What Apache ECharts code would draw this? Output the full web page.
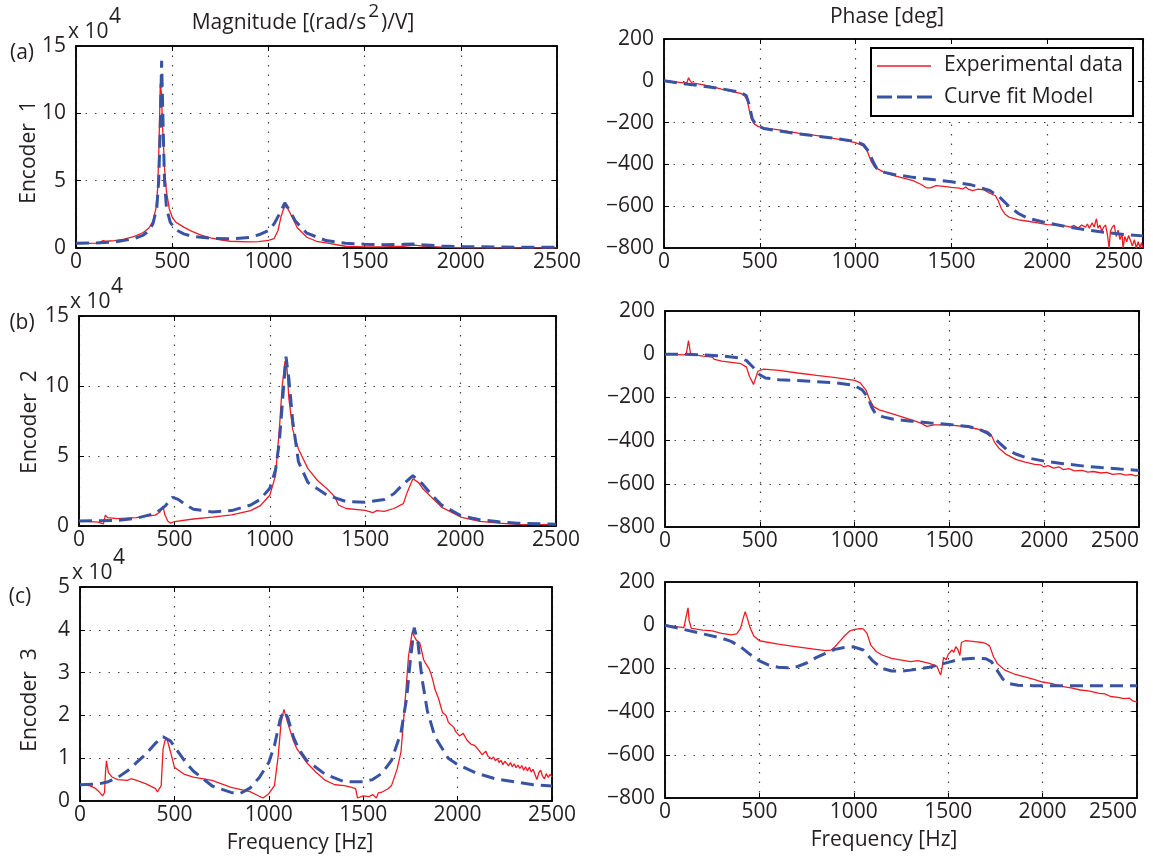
<!DOCTYPE html>
<html><head><meta charset="utf-8">
<script src="https://cdn.jsdelivr.net/npm/echarts@6/dist/echarts.min.js"></script>
<style>html,body{margin:0;padding:0;background:#fff}#c{width:1153px;height:860px}</style>
</head><body><div id="c"></div>
<script>
// ---------------- DATA (frequency [Hz], value) ----------------
// Magnitude values in units of 10^4 (rad/s^2)/V, phase in degrees
const magA_exp = [[0,0.33],[60,0.35],[120,0.36],[130,0.34],[140,0.55],[160,0.5],[200,0.55],[250,0.65],[300,0.85],[350,1.15],[380,1.5],[400,2.0],[415,2.9],[425,4.5],[432,8],[438,12.2],[444,11.5],[450,9],[460,6],[470,4.2],[485,2.9],[500,2.3],[520,1.9],[560,1.55],[600,1.25],[650,0.95],[700,0.75],[750,0.6],[800,0.5],[900,0.45],[950,0.48],[1000,0.57],[1030,0.7],[1050,1.3],[1065,2.3],[1080,2.95],[1090,3.1],[1100,2.95],[1120,2.4],[1150,1.5],[1200,0.8],[1250,0.5],[1300,0.38],[1400,0.13],[1500,0.08],[1600,0.09],[1700,0.13],[1760,0.22],[1800,0.14],[1900,0.06],[2000,0.03],[2200,0.02],[2500,0.01]];
const magA_fit = [[0,0.35],[100,0.37],[200,0.45],[300,0.68],[350,0.95],[380,1.3],[400,1.8],[420,3.0],[430,5.0],[438,9.0],[445,13.9],[452,9.5],[460,5.0],[470,3.0],[490,1.9],[520,1.35],[560,1.05],[600,0.88],[700,0.72],[800,0.68],[900,0.78],[950,0.98],[1000,1.3],[1030,1.8],[1060,2.6],[1085,3.35],[1110,2.8],[1140,2.0],[1200,1.1],[1300,0.55],[1400,0.35],[1500,0.28],[1600,0.25],[1700,0.27],[1760,0.3],[1800,0.25],[1900,0.15],[2000,0.1],[2200,0.07],[2500,0.05]];
const phaseA_exp = [[0,2],[50,-4],[100,-10],[120,-8],[128,15],[135,2],[145,-10],[200,-18],[250,-28],[300,-40],[350,-50],[400,-60],[420,-70],[435,-95],[445,-140],[455,-180],[470,-205],[490,-218],[520,-225],[600,-235],[700,-250],[800,-262],[900,-278],[1000,-296],[1040,-312],[1060,-335],[1080,-383],[1100,-414],[1150,-438],[1200,-454],[1300,-478],[1340,-495],[1370,-512],[1390,-512],[1420,-502],[1460,-505],[1500,-510],[1540,-514],[1560,-518],[1575,-508],[1590,-520],[1610,-525],[1640,-518],[1670,-522],[1700,-538],[1730,-550],[1745,-575],[1760,-610],[1780,-638],[1800,-652],[1850,-665],[1900,-672],[1950,-680],[2000,-688],[2050,-690],[2100,-695],[2120,-700],[2140,-692],[2160,-705],[2180,-690],[2200,-700],[2210,-685],[2220,-705],[2235,-680],[2245,-700],[2257,-660],[2265,-705],[2275,-690],[2285,-720],[2295,-700],[2305,-690],[2315,-740],[2323,-800],[2330,-720],[2340,-700],[2350,-690],[2360,-745],[2370,-715],[2380,-760],[2390,-730],[2396,-800],[2405,-745],[2415,-770],[2425,-740],[2435,-765],[2445,-790],[2455,-760],[2465,-800],[2475,-770],[2485,-800],[2492,-775],[2500,-800]];
const phaseA_fit = [[0,0],[100,-14],[200,-25],[300,-38],[400,-55],[430,-72],[445,-115],[460,-180],[480,-212],[520,-228],[600,-240],[700,-254],[800,-265],[900,-276],[1000,-290],[1040,-305],[1070,-340],[1090,-385],[1110,-418],[1150,-438],[1200,-448],[1300,-462],[1400,-472],[1500,-483],[1600,-497],[1700,-525],[1750,-555],[1800,-600],[1850,-635],[1900,-658],[2000,-680],[2100,-698],[2200,-713],[2300,-725],[2400,-735],[2500,-742]];

const magB_exp = [[0,0.36],[100,0.28],[128,0.15],[138,0.78],[150,0.6],[200,0.52],[300,0.6],[400,0.78],[425,1.0],[440,1.43],[450,0.8],[465,0.35],[480,0.2],[500,0.32],[600,0.5],[700,0.64],[800,0.8],[900,1.1],[950,1.45],[1000,2.2],[1030,3.6],[1050,6.9],[1065,10],[1080,11.8],[1090,11.3],[1100,9.1],[1120,6.9],[1150,5.5],[1200,4.1],[1250,3.25],[1300,2.66],[1340,2.1],[1360,1.5],[1400,1.25],[1500,1.12],[1540,0.95],[1560,1.1],[1600,1.05],[1650,1.25],[1700,1.6],[1720,2.4],[1750,3.37],[1780,3.1],[1800,2.7],[1900,1.35],[2000,0.64],[2100,0.33],[2200,0.21],[2300,0.12],[2500,0.1]];
const magB_fit = [[0,0.35],[200,0.4],[300,0.55],[400,0.9],[450,1.4],[490,2.05],[520,1.9],[560,1.5],[600,1.2],[700,1.0],[800,1.1],[900,1.5],[950,1.9],[1000,2.7],[1030,4.0],[1050,6.0],[1070,9.5],[1085,12.1],[1100,10.5],[1120,7.5],[1150,4.6],[1200,3.1],[1300,2.2],[1400,1.75],[1500,1.7],[1600,1.9],[1650,2.3],[1700,3.0],[1750,3.6],[1800,3.0],[1850,2.2],[1900,1.5],[2000,0.75],[2100,0.45],[2200,0.3],[2300,0.2],[2500,0.12]];
const phaseB_exp = [[0,0],[100,-3],[112,0],[124,63],[135,0],[200,-9],[250,-14],[260,-24],[300,-32],[400,-44],[430,-60],[445,-102],[460,-128],[467,-140],[477,-113],[490,-79],[520,-69],[600,-75],[700,-87],[800,-98],[900,-108],[1000,-121],[1030,-133],[1060,-166],[1080,-212],[1100,-243],[1130,-258],[1200,-276],[1300,-304],[1350,-319],[1380,-334],[1420,-327],[1500,-327],[1600,-337],[1700,-357],[1720,-373],[1740,-411],[1760,-434],[1800,-464],[1850,-487],[1900,-500],[1950,-510],[1980,-512],[2000,-522],[2020,-516],[2050,-527],[2080,-522],[2100,-534],[2130,-530],[2160,-540],[2200,-538],[2230,-546],[2260,-543],[2300,-550],[2330,-547],[2360,-556],[2400,-553],[2430,-560],[2460,-556],[2480,-563],[2500,-560]];
const phaseB_fit = [[0,0],[100,0],[200,-3],[300,-8],[400,-18],[430,-30],[470,-65],[500,-95],[530,-110],[600,-118],[700,-122],[800,-127],[900,-132],[1000,-145],[1040,-165],[1070,-200],[1090,-245],[1110,-275],[1150,-290],[1200,-300],[1300,-310],[1400,-318],[1500,-325],[1600,-335],[1650,-345],[1700,-365],[1750,-400],[1800,-440],[1850,-462],[1900,-478],[2000,-495],[2100,-507],[2200,-517],[2300,-525],[2400,-532],[2500,-538]];

const magC_exp = [[0,0.38],[50,0.36],[80,0.3],[100,0.22],[120,0.12],[130,0.2],[135,0.67],[140,0.94],[150,0.67],[170,0.56],[200,0.5],[250,0.48],[270,0.52],[300,0.48],[350,0.4],[400,0.29],[410,0.21],[420,0.19],[430,0.36],[440,1.21],[450,1.41],[460,1.46],[480,1.14],[500,0.79],[550,0.63],[600,0.56],[700,0.48],[800,0.32],[900,0.22],[950,0.11],[970,0.07],[1000,0.17],[1030,0.36],[1050,1.06],[1065,1.83],[1080,2.14],[1100,1.83],[1130,1.41],[1150,1.21],[1200,0.9],[1250,0.67],[1300,0.48],[1350,0.38],[1400,0.36],[1440,0.32],[1460,0.29],[1470,0.07],[1500,0.12],[1530,0.1],[1550,0.15],[1570,0.07],[1580,0.19],[1600,0.21],[1630,0.28],[1650,0.36],[1680,0.75],[1700,1.14],[1720,2.22],[1740,3.38],[1760,3.96],[1770,3.85],[1780,3.77],[1790,3.8],[1800,3.69],[1810,3.5],[1820,3.3],[1830,3.22],[1840,3.15],[1850,3.08],[1860,2.96],[1870,2.8],[1880,2.61],[1890,2.5],[1900,2.38],[1910,2.22],[1920,2.07],[1930,2.1],[1940,1.99],[1950,1.85],[1960,1.8],[1970,1.76],[1980,1.72],[1990,1.62],[2000,1.6],[2010,1.52],[2020,1.49],[2030,1.58],[2040,1.55],[2050,1.42],[2060,1.41],[2070,1.33],[2080,1.29],[2090,1.3],[2100,1.25],[2110,1.2],[2120,1.14],[2130,1.08],[2140,1.1],[2150,1.16],[2160,1.05],[2170,1.02],[2180,0.98],[2190,1.03],[2200,0.94],[2210,0.99],[2220,0.9],[2230,0.95],[2240,0.85],[2250,0.93],[2260,0.88],[2270,0.82],[2280,0.9],[2290,0.8],[2300,0.87],[2310,0.78],[2320,0.84],[2330,0.76],[2340,0.83],[2350,0.72],[2360,0.8],[2370,0.7],[2380,0.79],[2390,0.68],[2400,0.74],[2410,0.62],[2420,0.5],[2430,0.66],[2440,0.72],[2450,0.58],[2460,0.52],[2470,0.64],[2480,0.55],[2490,0.62],[2500,0.56]];
const magC_fit = [[0,0.38],[100,0.4],[150,0.45],[200,0.55],[250,0.7],[300,0.9],[350,1.1],[400,1.35],[440,1.5],[480,1.4],[520,1.15],[560,0.9],[600,0.7],[700,0.35],[800,0.2],[850,0.18],[900,0.3],[950,0.55],[1000,0.9],[1030,1.3],[1060,1.9],[1080,2.1],[1100,1.95],[1130,1.5],[1160,1.2],[1200,0.95],[1300,0.62],[1400,0.45],[1500,0.45],[1550,0.5],[1600,0.65],[1650,0.95],[1700,1.6],[1730,2.4],[1750,3.3],[1770,4.05],[1790,3.7],[1810,2.9],[1840,2.1],[1880,1.5],[1950,1.0],[2000,0.85],[2100,0.65],[2200,0.52],[2300,0.45],[2400,0.38],[2500,0.35]];
const phaseC_exp = [[0,0],[50,-5],[100,-11],[110,-5],[117,60],[122,80],[128,20],[140,-15],[200,-23],[250,-26],[260,-35],[300,-38],[350,-45],[380,-40],[400,-15],[415,35],[425,62],[435,35],[450,-10],[470,-50],[500,-72],[600,-88],[700,-100],[800,-112],[850,-118],[880,-115],[900,-100],[930,-70],[950,-50],[980,-26],[1000,-20],[1030,-16],[1050,-17],[1070,-38],[1090,-92],[1120,-123],[1150,-138],[1200,-154],[1300,-169],[1340,-164],[1400,-177],[1440,-189],[1452,-215],[1460,-231],[1468,-195],[1475,-150],[1490,-160],[1500,-135],[1510,-140],[1520,-115],[1530,-125],[1540,-100],[1550,-110],[1562,-140],[1570,-80],[1590,-72],[1600,-68],[1620,-74],[1650,-77],[1680,-80],[1700,-85],[1720,-97],[1740,-146],[1760,-177],[1800,-208],[1850,-226],[1900,-238],[1950,-250],[2000,-263],[2050,-270],[2100,-283],[2150,-290],[2200,-300],[2250,-305],[2300,-316],[2330,-318],[2360,-330],[2400,-334],[2430,-340],[2460,-338],[2480,-352],[2490,-345],[2500,-355]];
const phaseC_fit = [[0,0],[100,-20],[200,-40],[300,-60],[350,-75],[400,-100],[450,-135],[500,-165],[550,-185],[600,-195],[650,-197],[700,-192],[750,-175],[800,-150],[850,-130],[900,-112],[950,-103],[1000,-100],[1050,-115],[1100,-165],[1150,-200],[1200,-212],[1250,-213],[1300,-208],[1400,-195],[1500,-172],[1550,-160],[1600,-155],[1650,-152],[1700,-155],[1730,-170],[1760,-210],[1790,-250],[1820,-270],[1870,-278],[1950,-280],[2500,-280]];

// axis ranges / labels
const freqRange = [0, 2500, 500];
const magRangeAB = [0, 15, 5];
const magRangeC = [0, 5, 1];
const phaseRange = [-800, 200, 200];
const rowLabels = ['(a)', '(b)', '(c)'];
const encoderLabels = ['Encoder  1', 'Encoder  2', 'Encoder  3'];
const legendNames = ['Experimental data', 'Curve fit Model'];

// ---------------- STYLE ----------------
const FONT = 'Open Sans';
const FS = 21;
const TXT = '#231f20';
const RED = '#ED1C24';
const BLUE = '#3953A4';

const grids = [
  {left:76,  top:46,  width:481, height:202},
  {left:664, top:39,  width:479, height:209},
  {left:79,  top:316, width:477, height:210},
  {left:665, top:311, width:474, height:216},
  {left:80,  top:587, width:472, height:214},
  {left:665, top:582, width:472, height:216}
];

function fmtY(v){ return v < 0 ? '\u2212' + Math.abs(v) : String(v); }
function fmtX(v){ return String(v); }

const xAxes = [], yAxes = [];
const axLine = {show:true, onZero:false, lineStyle:{color:'#000', width:1.5}};
const axTick = {show:true, inside:true, length:5, lineStyle:{color:'#000', width:1}};
const dotted = {show:true, lineStyle:{type:[1.5,8], color:'#444', width:1.2}};
const yRanges = [magRangeAB, phaseRange, magRangeAB, phaseRange, magRangeC, phaseRange];
grids.forEach((g, i) => {
  const isPhase = i % 2 === 1;
  xAxes.push({type:'value', gridIndex:i, min:freqRange[0], max:freqRange[1], interval:freqRange[2], position:'bottom',
    axisLine:axLine, axisTick:axTick,
    axisLabel:{fontSize:FS, fontFamily:FONT, color:TXT, margin:4, formatter:fmtX, showMinLabel:true, showMaxLabel:true,
      alignMaxLabel: isPhase ? 'right' : 'center'},
    splitLine:dotted});
  xAxes.push({type:'value', gridIndex:i, min:freqRange[0], max:freqRange[1], interval:freqRange[2], position:'top',
    axisLine:axLine, axisTick:axTick, axisLabel:{show:false}, splitLine:{show:false}});
  const r = yRanges[i];
  yAxes.push({type:'value', gridIndex:i, min:r[0], max:r[1], interval:r[2], position:'left',
    axisLine:axLine, axisTick:axTick,
    axisLabel:{fontSize:FS, fontFamily:FONT, color:TXT, margin:10, formatter:fmtY, showMinLabel:true, showMaxLabel:true},
    splitLine:dotted});
  yAxes.push({type:'value', gridIndex:i, min:r[0], max:r[1], interval:r[2], position:'right',
    axisLine:axLine, axisTick:axTick, axisLabel:{show:false}, splitLine:{show:false}});
});

const seriesData = [
  [magA_exp, magA_fit], [phaseA_exp, phaseA_fit],
  [magB_exp, magB_fit], [phaseB_exp, phaseB_fit],
  [magC_exp, magC_fit], [phaseC_exp, phaseC_fit]
];
const series = [];
seriesData.forEach((pair, i) => {
  series.push({name:legendNames[0], type:'line', xAxisIndex:2*i, yAxisIndex:2*i, data:pair[0],
    showSymbol:false, symbol:'none', lineStyle:{color:RED, width:1.3}, z:3});
  series.push({name:legendNames[1], type:'line', xAxisIndex:2*i, yAxisIndex:2*i, data:pair[1],
    showSymbol:false, symbol:'none', lineStyle:{color:BLUE, width:3, type:[13,7]}, z:4});
});

// text measurement for the title with superscript
const mc = document.createElement('canvas').getContext('2d');
function tw(t, s){ mc.font = s + 'px "' + FONT + '"'; return mc.measureText(t).width; }
const t1 = 'Magnitude [(rad/s', t2 = '2', t3 = ')/V]';
const w1 = tw(t1,FS), w2 = tw(t2,19), w3 = tw(t3,FS);
const tStart = 303 - (w1 + w2 + w3 + 4) / 2;

function txt(text, x, y, opt){
  opt = opt || {};
  return {type:'text', x:x, y:y, rotation:opt.rot || 0, z:100,
    style:{text:text, fontSize:opt.size || FS, fontFamily:FONT, fill:TXT,
      align:opt.align || 'center', verticalAlign:'middle'}};
}
const graphics = [
  txt(t1, tStart, 23, {align:'left'}),
  txt(t2, tStart + w1 + 2, 12, {align:'left', size:19}),
  txt(t3, tStart + w1 + w2 + 4, 23, {align:'left'}),
  txt('Phase [deg]', 887, 17),
  txt(rowLabels[0], 22, 53), txt(rowLabels[1], 22, 323), txt(rowLabels[2], 20, 597),
  txt('x 10', 68, 32, {align:'left'}), txt('4', 109, 17, {align:'left'}),
  txt('x 10', 70, 302, {align:'left'}), txt('4', 111, 287, {align:'left'}),
  txt('x 10', 72, 573, {align:'left'}), txt('4', 113, 558, {align:'left'}),
  txt(encoderLabels[0], 29, 152, {rot:Math.PI/2}),
  txt(encoderLabels[1], 30, 422, {rot:Math.PI/2}),
  txt(encoderLabels[2], 30, 700, {rot:Math.PI/2}),
  txt('Frequency [Hz]', 300, 843), txt('Frequency [Hz]', 884, 840),
  // legend
  {type:'rect', z:99, shape:{x:871, y:48, width:262, height:68}, style:{fill:'#fff', stroke:'#000', lineWidth:2}},
  {type:'line', z:100, shape:{x1:877, y1:66, x2:931, y2:66}, style:{stroke:RED, lineWidth:1.5}},
  {type:'line', z:100, shape:{x1:877, y1:97, x2:932, y2:97}, style:{stroke:BLUE, lineWidth:3, lineDash:[15,5]}},
  txt(legendNames[0], 944, 65, {align:'left'}),
  txt(legendNames[1], 944, 97, {align:'left'})
];

const chart = echarts.init(document.getElementById('c'), null, {renderer:'canvas'});
chart.setOption({
  animation:false,
  backgroundColor:'#fff',
  grid: grids.map(g => Object.assign({show:true, borderColor:'#000', borderWidth:1.5, backgroundColor:'transparent', containLabel:false}, g)),
  xAxis:xAxes, yAxis:yAxes, series:series, graphic:graphics
});
</script></body></html>
